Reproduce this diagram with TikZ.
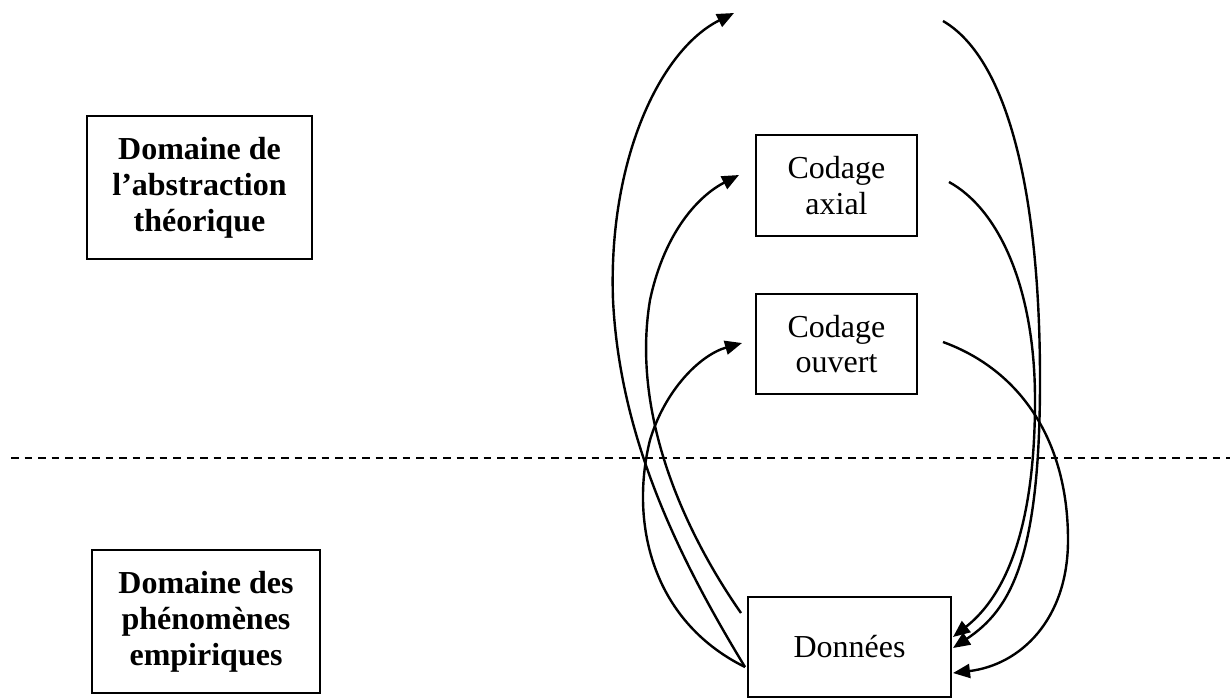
\documentclass[tikz,border=0pt]{standalone}
\usepackage{fontspec}
\setmainfont{Liberation Serif}
\usetikzlibrary{arrows.meta,calc}
\tikzset{
  box/.style={draw, line width=1pt, inner sep=0pt, align=center, font=\fontsize{16}{17.75}\selectfont},
  bbox/.style={box, font=\fontsize{16}{18}\selectfont\bfseries},
  flow/.style={line width=1.2pt, -{Triangle[length=8.5pt,width=7pt]}},
  sepline/.style={line width=0.85pt, dash pattern=on 3.75pt off 3pt}
}
\begin{document}
\begin{tikzpicture}[x=0.5pt,y=-0.5pt]
\useasboundingbox (0,0) rectangle (1230,697);
% domain boxes
\node[bbox, minimum width=112.5pt, minimum height=71.5pt] (abs) at (199.5,187.5) {Domaine de\\l’abstraction\\théorique};
\node[bbox, minimum width=114pt, minimum height=71.5pt] (emp) at (206,621.5) {Domaine des\\phénomènes\\empiriques};
% process boxes
\node[box, minimum width=80.5pt, minimum height=50.5pt] (axial) at (836.5,185.5) {Codage\\axial};
\node[box, minimum width=80.5pt, minimum height=50pt] (ouvert) at (836.5,344) {Codage\\ouvert};
\node[box, minimum width=101.5pt, minimum height=50pt] (donnees) at (849.5,647) {Données};
% separator
\coordinate (sepL) at (11,458);
\coordinate (sepR) at (1230,458);
\draw[sepline] (sepL) -- (sepR);
% connector ends
\coordinate (topTip) at (734,13);
\coordinate (topStart) at (943,21);
\coordinate (dL1) at ($(donnees.west)+(-2,20)$);
\coordinate (dL2) at ($(donnees.west)+(-6,-34)$);
\coordinate (dR1) at ($(donnees.east)+(1,-10)$);
\coordinate (dR2) at ($(donnees.east)+(1,1)$);
\coordinate (dR3) at ($(donnees.east)+(1,26)$);
\coordinate (axIn) at ($(axial.west)+(-16,-10.5)$);
\coordinate (axOut) at ($(axial.east)+(31,-3.5)$);
\coordinate (ouIn) at ($(ouvert.west)+(-13,-1)$);
\coordinate (ouOut) at ($(ouvert.east)+(25,-2)$);
% left (upward) arrows
\draw[flow] (dL1) .. controls (680,560) and (620,440) .. (613,300)
                  .. controls (608,160) and (660,50) .. (topTip);
\draw[flow] (dL2) .. controls (690,540) and (630,420) .. (650,300)
                  .. controls (665,230) and (700,195) .. (axIn);
\draw[flow] (dL1) .. controls (650,620) and (630,520) .. (650,440)
                  .. controls (665,390) and (700,355) .. (ouIn);
% right (downward) arrows
\draw[flow] (topStart) .. controls (1010,60) and (1040,200) .. (1040,380)
                       .. controls (1040,560) and (1010,610) .. (dR2);
\draw[flow] (axOut) .. controls (1000,210) and (1035,290) .. (1035,400)
                    .. controls (1035,540) and (1000,600) .. (dR1);
\draw[flow] (ouOut) .. controls (1020,370) and (1068,440) .. (1068,540)
                    .. controls (1068,620) and (1020,665) .. (dR3);
\end{tikzpicture}
\end{document}
